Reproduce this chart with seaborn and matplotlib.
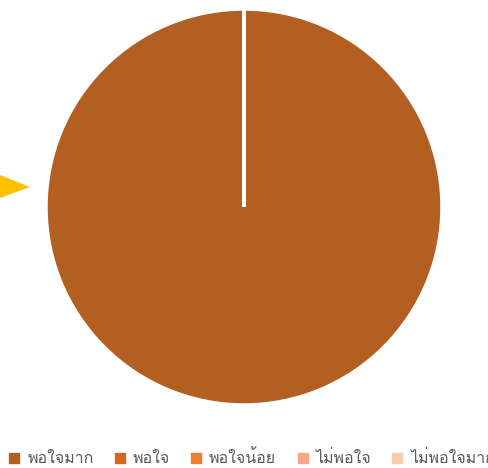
import numpy as np
import pandas as pd
import seaborn as sns
import matplotlib
matplotlib.use("Agg")
import matplotlib.pyplot as plt
from matplotlib import font_manager
from matplotlib.ft2font import FT2Font
from matplotlib.lines import Line2D
from matplotlib.patches import Polygon

# Satisfaction levels and response counts
categories = ["พอใจมาก", "พอใจ", "พอใจน้อย", "ไม่พอใจ", "ไม่พอใจมาก"]
counts = [1, 0, 0, 0, 0]
colors = ["#B45F22", "#D2691E", "#ED7D31", "#F4A98A", "#F8CBAD"]

df = pd.DataFrame({"level": categories, "count": counts})

sns.set_theme(style="white")


def thai_font():
    """Pick an installed family that actually has Thai glyphs."""
    for f in font_manager.fontManager.ttflist:
        try:
            ft = FT2Font(f.fname)
            if ft.get_char_index(ord("พ")) and ft.get_char_index(ord("ใ")):
                return f.name
        except Exception:
            continue
    return None


fam = thai_font()
families = ([fam] if fam else []) + ["DejaVu Sans"]
plt.rcParams["font.family"] = families

W, H = 489, 468
fig = plt.figure(figsize=(W / 100, H / 100), dpi=100)

# pie area: square box in pixels
left, top, size = 46, 9, 396
ax = fig.add_axes([left / W, (H - top - size) / H, size / W, size / H])
ax.pie(df["count"], colors=colors, startangle=90, counterclock=False,
       radius=1.0, wedgeprops=dict(edgecolor="white", linewidth=2.5))
ax.set_xlim(-1, 1)
ax.set_ylim(-1, 1)
ax.set_aspect("equal")
ax.axis("off")

# yellow pointer on the left margin
tri = Polygon([(0 / W, 1 - 175 / H), (30 / W, 1 - 187 / H), (0 / W, 1 - 198 / H)],
              closed=True, transform=fig.transFigure, color="#FFC000", lw=0)
fig.patches.append(tri)

handles = [Line2D([0], [0], marker="s", linestyle="none", markersize=6.5,
                  markerfacecolor=c, markeredgecolor=c) for c in colors]
fig.legend(handles, df["level"], loc="lower left", bbox_to_anchor=(0.005, -0.012),
           ncol=5, frameon=False, fontsize=11.5, labelcolor="#595959",
           handlelength=0.7, handletextpad=0.45, columnspacing=1.3,
           borderaxespad=0)

fig.savefig("out.png", dpi=100)
